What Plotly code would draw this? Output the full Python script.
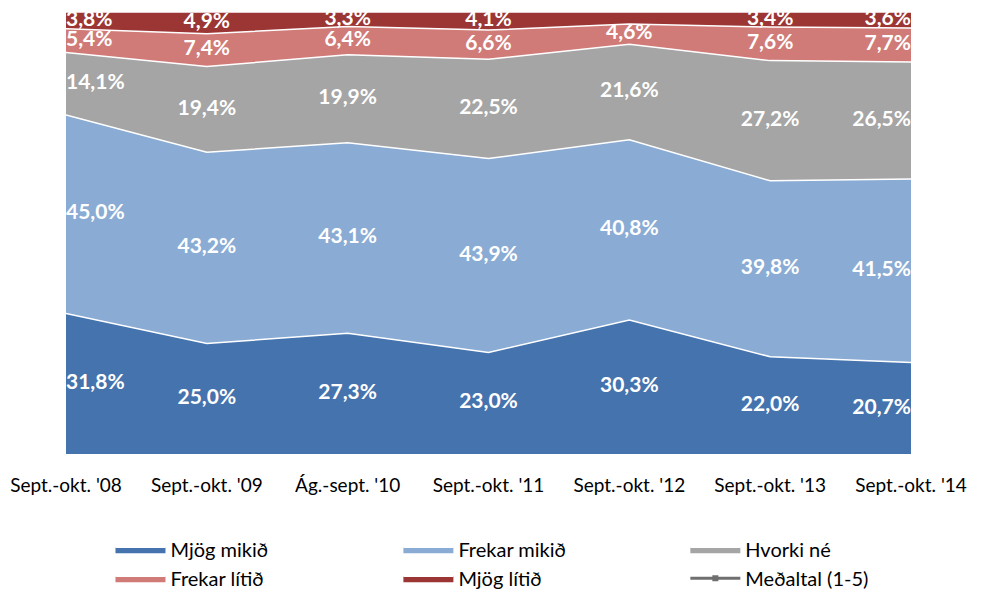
import numpy as np
import plotly.graph_objects as go

categories = ["Sept.-okt. '08", "Sept.-okt. '09", "Ág.-sept. '10", "Sept.-okt. '11",
              "Sept.-okt. '12", "Sept.-okt. '13", "Sept.-okt. '14"]
mjog_mikid = [31.8, 25.0, 27.3, 23.0, 30.3, 22.0, 20.7]
frekar_mikid = [45.0, 43.2, 43.1, 43.9, 40.8, 39.8, 41.5]
hvorki_ne = [14.1, 19.4, 19.9, 22.5, 21.6, 27.2, 26.5]
frekar_litid = [5.4, 7.4, 6.4, 6.6, 4.6, 7.6, 7.7]
mjog_litid = [3.8, 4.9, 3.3, 4.1, 2.7, 3.4, 3.6]
series_names = ["Mjög mikið", "Frekar mikið", "Hvorki né", "Frekar lítið", "Mjög lítið"]
average_name = "Meðaltal (1-5)"

series = [mjog_mikid, frekar_mikid, hvorki_ne, frekar_litid, mjog_litid]
colors = ["#4573AE", "#8AACD4", "#A5A5A5", "#D07B78", "#9B3634"]
# legend column for each series (3 columns, filled row by row)
legend_ids = ["legend", "legend2", "legend3", "legend", "legend2"]

fig = go.Figure()
for name, vals, col, lg in zip(series_names, series, colors, legend_ids):
    fig.add_trace(go.Scatter(
        x=categories, y=vals, name=name, stackgroup="one", groupnorm="percent",
        mode="lines", line=dict(color="white", width=1.5), fillcolor=col,
        hoverinfo="skip", legend=lg))

fig.add_trace(go.Scatter(
    x=[None], y=[None], name=average_name, mode="lines+markers", legend="legend3",
    line=dict(color="#6F6F6F", width=3), marker=dict(symbol="square", size=6, color="#6F6F6F")))

# data labels at segment mid-points (normalized)
arr = np.array(series, dtype=float)
norm = arr / arr.sum(axis=0) * 100
cum = np.cumsum(norm, axis=0)
mids = cum - norm / 2
n = len(categories)
positions = ["middle right"] + ["middle center"] * (n - 2) + ["middle left"]
for i, vals in enumerate(series):
    hidden = [v < 3 for v in vals]
    fig.add_trace(go.Scatter(
        x=categories, y=mids[i],
        text=[("" if h else f"{v:.1f}%".replace(".", ",")) for v, h in zip(vals, hidden)],
        mode="text", textposition=positions,
        textfont=dict(family="Lato", size=21, color="white", weight="bold"),
        showlegend=False, hoverinfo="skip"))

legend_common = dict(orientation="v", xref="container", yref="container",
                     xanchor="left", y=0.108, yanchor="top", itemwidth=50,
                     font=dict(family="Lato", size=20, color="black"),
                     traceorder="normal", bgcolor="rgba(0,0,0,0)")

fig.update_layout(
    width=976, height=585,
    margin=dict(l=58, r=73, t=4, b=139, autoexpand=False),
    paper_bgcolor="white", plot_bgcolor="white",
    font=dict(family="Lato", size=19, color="black"),
    xaxis=dict(type="category", range=[0, n - 1], showgrid=False, zeroline=False,
               showline=False, ticks="", ticklabelstandoff=18, tickangle=0,
               automargin=False,
               tickfont=dict(family="Lato", size=19, color="black")),
    yaxis=dict(range=[0, 100], visible=False, showgrid=False),
    legend=dict(x=0.105, **legend_common),
    legend2=dict(x=0.400, **legend_common),
    legend3=dict(x=0.694, **legend_common),
    showlegend=True,
)

fig.write_html("out.html")
